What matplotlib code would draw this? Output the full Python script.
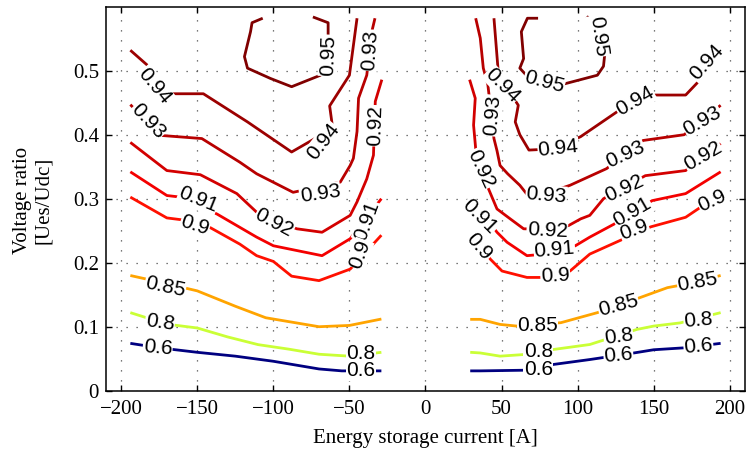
import matplotlib
matplotlib.use("Agg")
import matplotlib.pyplot as plt
from matplotlib.colors import Normalize, LinearSegmentedColormap

# contour levels (efficiency)
levels = [0.6, 0.8, 0.85, 0.9, 0.91, 0.92, 0.93, 0.94, 0.95]

# contour lines, negative current side
x_095_l = [-107, -114, -115, -119, -117, -102, -88, -69, -64, -64, -64, -74]
y_095_l = [0.582, 0.575, 0.561, 0.522, 0.504, 0.488, 0.475, 0.493, 0.52, 0.562, 0.575, 0.584]
x_094_l = [-194, -183, -168, -146, -117, -88, -61, -63, -50, -45]
y_094_l = [0.532, 0.509, 0.464, 0.464, 0.42, 0.373, 0.41, 0.445, 0.493, 0.582]
x_093_l = [-194, -174.5, -147, -122, -111, -87, -56, -49.5, -47.4, -45, -44, -38.6, -35.3, -33.2]
y_093_l = [0.447, 0.399, 0.394, 0.357, 0.339, 0.310, 0.326, 0.352, 0.363, 0.405, 0.457, 0.493, 0.561, 0.582]
x_092_l = [-194, -170, -148, -124, -111, -84.6, -68, -49.5, -45, -38.6, -34.2, -33, -28.7]
y_092_l = [0.388, 0.344, 0.3375, 0.308, 0.279, 0.253, 0.2476, 0.274, 0.295, 0.331, 0.368, 0.452, 0.486]
x_091_l = [-194, -170, -161, -137, -111, -100, -68, -49.5, -29]
y_091_l = [0.342, 0.305, 0.3025, 0.276, 0.24, 0.2265, 0.211, 0.2375, 0.30]
x_090_l = [-194, -170, -160, -141.6, -122, -111, -100, -88, -70, -49.5, -29]
y_090_l = [0.3025, 0.270, 0.267, 0.255, 0.229, 0.211, 0.202, 0.179, 0.172, 0.19, 0.243]
x_085_l = [-194, -175, -150, -125, -105, -85, -70, -50, -29]
y_085_l = [0.180, 0.170, 0.156, 0.132, 0.114, 0.106, 0.100, 0.102, 0.112]
x_080_l = [-194, -170, -150, -130, -110, -90, -70, -50, -29]
y_080_l = [0.122, 0.104, 0.098, 0.084, 0.072, 0.065, 0.057, 0.054, 0.060]
x_060_l = [-194, -175, -150, -125, -100, -70, -55, -29]
y_060_l = [0.074, 0.067, 0.060, 0.054, 0.046, 0.034, 0.031, 0.031]

# positive current side
x_095_r = [74, 67, 63, 64.5, 62, 67, 89, 113, 117, 118, 115, 110, 106]
y_095_r = [0.582, 0.582, 0.561, 0.519, 0.504, 0.491, 0.478, 0.493, 0.507, 0.530, 0.545, 0.575, 0.585]
x_094_r = [45, 48, 61, 59, 62, 68, 85, 102, 126, 151, 171, 181, 194]
y_094_r = [0.582, 0.493, 0.446, 0.42, 0.40, 0.376, 0.378, 0.397, 0.436, 0.462, 0.462, 0.487, 0.527]
x_093_r = [33, 36, 38, 41, 45, 47, 49, 54, 62, 69, 95, 119, 143, 170, 194]
y_093_r = [0.582, 0.551, 0.504, 0.478, 0.394, 0.375, 0.352, 0.339, 0.321, 0.30, 0.321, 0.347, 0.391, 0.400, 0.446]
x_092_r = [29, 32.7, 31.6, 33, 35, 41.4, 47, 55.7, 64.5, 80, 94, 102, 108, 117, 144.5, 171, 194]
y_092_r = [0.486, 0.457, 0.415, 0.378, 0.36, 0.3155, 0.284, 0.2685, 0.253, 0.252, 0.258, 0.2685, 0.274, 0.30, 0.336, 0.344, 0.386]
x_091_r = [29.4, 40, 47, 53.6, 66.7, 85, 98.5, 108, 123.7, 149, 171, 194]
y_091_r = [0.30, 0.27, 0.2476, 0.232, 0.211, 0.215, 0.2265, 0.24, 0.26, 0.297, 0.308, 0.342]
x_090_r = [29.4, 38, 42.6, 50.3, 66.7, 75.5, 95, 108, 130, 148, 171, 181, 194]
y_090_r = [0.242, 0.222, 0.2056, 0.187, 0.177, 0.177, 0.187, 0.2135, 0.237, 0.256, 0.271, 0.287, 0.305]
x_085_r = [29.4, 36, 49, 60, 89, 113, 141, 159, 165, 194]
y_085_r = [0.1115, 0.1115, 0.1036, 0.101, 0.1063, 0.122, 0.1455, 0.161, 0.1637, 0.18]
x_080_r = [29.4, 36, 49, 64.5, 84, 108, 139, 150, 167.5, 194]
y_080_r = [0.060, 0.059, 0.054, 0.0565, 0.0644, 0.0722, 0.0958, 0.101, 0.106, 0.122]
x_060_r = [29.4, 36, 64.5, 84, 108, 137, 150, 170, 194]
y_060_r = [0.031, 0.031, 0.032, 0.041, 0.0487, 0.059, 0.064, 0.067, 0.074]

# inline labels: level, x, y, rotation
lab_level = [0.94, 0.93, 0.91, 0.9, 0.92, 0.93, 0.94, 0.95, 0.93, 0.92, 0.91, 0.9,
             0.85, 0.8, 0.6, 0.8, 0.6,
             0.93, 0.94, 0.95, 0.95, 0.94, 0.94, 0.94, 0.93, 0.93, 0.93,
             0.92, 0.92, 0.92, 0.92, 0.91, 0.91, 0.91, 0.9, 0.9, 0.9, 0.9,
             0.85, 0.85, 0.85, 0.8, 0.8, 0.8, 0.6, 0.6, 0.6]
lab_x = [-178, -182.5, -149.5, -151.5, -99.5, -69.3, -67.3, -64, -36.4, -33.1, -38.4, -43,
         -171, -174.5, -176, -42.3, -42.3,
         43.9, 50.5, 78, 113.6, 87.3, 137.8, 184.6, 79.4, 131.4, 182,
         36.6, 80, 130.7, 182.6, 35.3, 84.7, 136, 35.3, 85.3, 137.3, 188.6,
         73.6, 126.8, 178.8, 74.1, 126.8, 179.4, 74.1, 126.8, 179.4]
lab_y = [0.476, 0.421, 0.298, 0.259, 0.262, 0.308, 0.389, 0.524, 0.532, 0.414, 0.265, 0.2135,
         0.163, 0.107, 0.0675, 0.058, 0.031,
         0.43, 0.477, 0.482, 0.554, 0.378, 0.452, 0.513, 0.306, 0.37, 0.422,
         0.347, 0.25, 0.3155, 0.366, 0.2716, 0.22, 0.279, 0.2245, 0.179, 0.251, 0.297,
         0.102, 0.1335, 0.17, 0.0605, 0.085, 0.11, 0.0325, 0.055, 0.069]
lab_rot = [-50, -47, -22, -18, -28, 8, 52, 88, 86, 88, 70, 70,
           -12, -8, -5, 0, 0,
           85, -45, -15, -82, 6, 30, 48, -5, 25, 30,
           -65, -3, 25, 30, -45, 5, 30, -50, 3, 20, 25,
           0, 15, 10, 0, 8, 5, 0, 5, 5]

lines = [
    (0.95, x_095_l, y_095_l), (0.94, x_094_l, y_094_l), (0.93, x_093_l, y_093_l),
    (0.92, x_092_l, y_092_l), (0.91, x_091_l, y_091_l), (0.9, x_090_l, y_090_l),
    (0.85, x_085_l, y_085_l), (0.8, x_080_l, y_080_l), (0.6, x_060_l, y_060_l),
    (0.95, x_095_r, y_095_r), (0.94, x_094_r, y_094_r), (0.93, x_093_r, y_093_r),
    (0.92, x_092_r, y_092_r), (0.91, x_091_r, y_091_r), (0.9, x_090_r, y_090_r),
    (0.85, x_085_r, y_085_r), (0.8, x_080_r, y_080_r), (0.6, x_060_r, y_060_r),
]

# MATLAB style jet
cmap = LinearSegmentedColormap.from_list('mjet', [
    (0.0, (0, 0, 0.5)), (0.125, (0, 0, 1)), (0.375, (0, 1, 1)),
    (0.625, (1, 1, 0)), (0.875, (1, 0, 0)), (1.0, (0.5, 0, 0))])
norm = Normalize(vmin=min(levels), vmax=max(levels))

plt.rcParams['font.family'] = ['Liberation Serif', 'DejaVu Serif']

fig = plt.figure(figsize=(7.47, 4.54), dpi=100)
ax = fig.add_axes([0.1419, 0.1394, 0.8554, 0.8458])

for lvl, xs, ys in lines:
    ax.plot(xs, ys, color=cmap(norm(lvl)), lw=2.0, zorder=2, solid_capstyle='butt')

for lvl, lx, ly, rot in zip(lab_level, lab_x, lab_y, lab_rot):
    ax.text(lx, ly, f"{lvl:g}", rotation=rot, rotation_mode='anchor',
            ha='center', va='center', fontsize=15, family='Liberation Sans',
            zorder=3, bbox=dict(facecolor='white', edgecolor='none', pad=0.3))

ax.set_xlim(-210, 210)
ax.set_ylim(0, 0.6)
ax.set_xticks([-200, -150, -100, -50, 0, 50, 100, 150, 200])
ax.set_yticks([0, 0.1, 0.2, 0.3, 0.4, 0.5])
ax.set_yticklabels(['0', '0.1', '0.2', '0.3', '0.4', '0.5'])
ax.grid(True, color='0.3', linestyle=(0, (1, 7)), linewidth=0.9)
ax.tick_params(direction='in', length=4, width=1, top=True, right=True, labelsize=15)
ax.tick_params(axis='x', pad=7)
ax.tick_params(axis='y', pad=5)
for s in ax.spines.values():
    s.set_linewidth(1.1)

fig.text(425 / 747, 1 - 439 / 454, 'Energy storage current [A]', ha='center', va='center', fontsize=15)
fig.text(33 / 747, 1 - 200 / 454, 'Voltage ratio\n[Ues/Udc]', ha='center', va='center',
         rotation=90, fontsize=15, multialignment='center')

fig.savefig('out.png', dpi=100)
